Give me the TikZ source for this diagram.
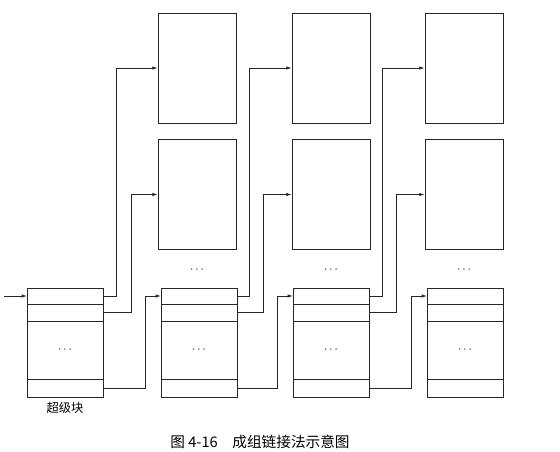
\documentclass[tikz,border=0pt]{standalone}
\usepackage{fontspec}
\newfontfamily\cjk{Noto Sans CJK SC}
\usetikzlibrary{positioning, arrows.meta}
\begin{document}
\begin{tikzpicture}[x=0.03cm,y=-0.03cm,line width=0.6pt,cell/.style={draw=black!85,minimum width=2.28cm,inner sep=0pt,outer sep=0pt},freeblk/.style={draw=black!85,minimum width=2.34cm,minimum height=3.3cm,inner sep=0pt},arrow/.style={draw=black!85,-{Latex[length=1.6mm,width=1mm]}},note/.style={font=\cjk\fontsize{10.5}{12}\selectfont},caption/.style={font=\cjk\fontsize{12.5}{14}\selectfont}]
\useasboundingbox (0,0) rectangle (560,452);
% superblock and the three free-list blocks below
\node[cell,minimum height=0.48cm] (s1a) at (65,296){};
\node[cell,minimum height=0.51cm,below=0pt of s1a] (s1b){};
\node[cell,minimum height=1.74cm,below=0pt of s1b] (s1c){$\cdots$};
\node[cell,minimum height=0.54cm,below=0pt of s1c] (s1d){};
\node[cell,minimum height=0.48cm] (s2a) at (199,296){};
\node[cell,minimum height=0.51cm,below=0pt of s2a] (s2b){};
\node[cell,minimum height=1.74cm,below=0pt of s2b] (s2c){$\cdots$};
\node[cell,minimum height=0.54cm,below=0pt of s2c] (s2d){};
\node[cell,minimum height=0.48cm] (s3a) at (331,296){};
\node[cell,minimum height=0.51cm,below=0pt of s3a] (s3b){};
\node[cell,minimum height=1.74cm,below=0pt of s3b] (s3c){$\cdots$};
\node[cell,minimum height=0.54cm,below=0pt of s3c] (s3d){};
\node[cell,minimum height=0.48cm] (s4a) at (465,296){};
\node[cell,minimum height=0.51cm,below=0pt of s4a] (s4b){};
\node[cell,minimum height=1.74cm,below=0pt of s4b] (s4c){$\cdots$};
\node[cell,minimum height=0.54cm,below=0pt of s4c] (s4d){};
% free blocks of each group
\node[freeblk] (g1a) at (197,68){};\node[freeblk] (g1b) at (197,194.5){};\node (g1dots) at (197,270){$\cdots$};
\node[freeblk] (g2a) at (331,68){};\node[freeblk] (g2b) at (331,194.5){};\node (g2dots) at (331,270){$\cdots$};
\node[freeblk] (g3a) at (464,68){};\node[freeblk] (g3b) at (464,194.5){};\node (g3dots) at (464,270){$\cdots$};
% links
\coordinate (in) at (4,296);
\draw[arrow] (in) -- (s1a.west);
\draw[arrow] (s1a.east) -- ++(13,0) |- (g1a.west);\draw[arrow] (s1b.east) -- ++(28,0) |- (g1b.west);\draw[arrow] (s1d.east) -- ++(42,0) |- (s2a.west);
\draw[arrow] (s2a.east) -- ++(12,0) |- (g2a.west);\draw[arrow] (s2b.east) -- ++(26,0) |- (g2b.west);\draw[arrow] (s2d.east) -- ++(40,0) |- (s3a.west);
\draw[arrow] (s3a.east) -- ++(13,0) |- (g3a.west);\draw[arrow] (s3b.east) -- ++(27,0) |- (g3b.west);\draw[arrow] (s3d.east) -- ++(42,0) |- (s4a.west);
\node[note] (sblabel) at (65,408) {超级块};
\node[caption] (cap) at (260,442) {图 4-16\quad 成组链接法示意图};
\end{tikzpicture}
\end{document}
